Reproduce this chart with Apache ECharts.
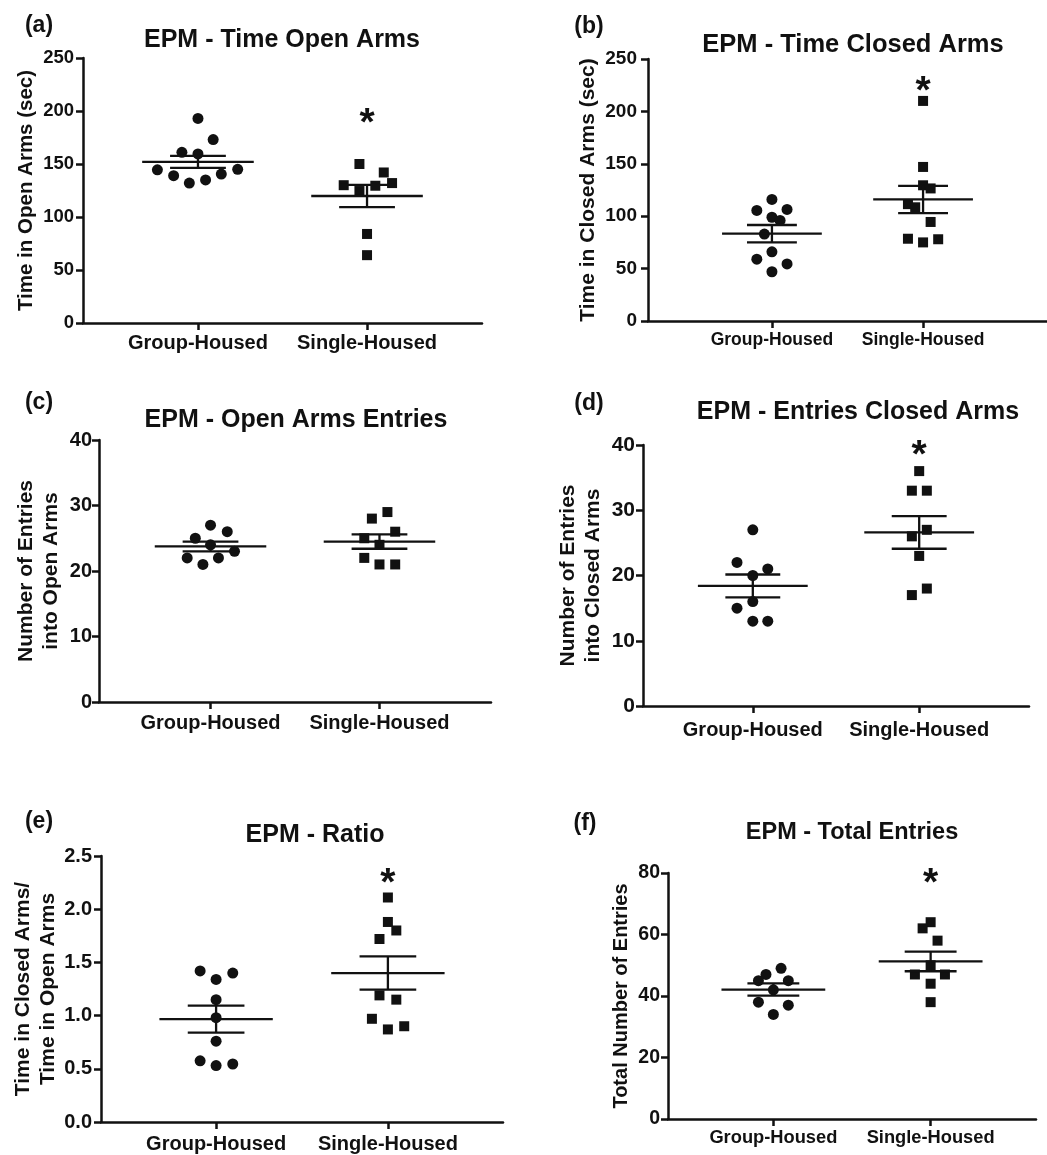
<!DOCTYPE html>
<html>
<head>
<meta charset="utf-8">
<script src="https://cdn.jsdelivr.net/npm/echarts@6/dist/echarts.min.js"></script>
<style>
html,body{margin:0;padding:0;background:#fff;}
#chart{width:1047px;height:1155px;}
</style>
</head>
<body>
<div id="chart"></div>
<script>
// ---------------- DATA ----------------
const categories = ['Group-Housed', 'Single-Housed'];
const panelLetters = ['(a)', '(b)', '(c)', '(d)', '(e)', '(f)'];
const panelTitles = ['EPM - Time Open Arms', 'EPM - Time Closed Arms', 'EPM - Open Arms Entries',
  'EPM - Entries Closed Arms', 'EPM - Ratio', 'EPM - Total Entries'];
const yAxisNames = ['Time in Open Arms (sec)', 'Time in Closed Arms (sec)', 'Number of Entries\ninto Open Arms',
  'Number of Entries\ninto Closed Arms', 'Time in Closed Arms/\nTime in Open Arms', 'Total Number of Entries'];

const yTicksA = [0, 50, 100, 150, 200, 250];
const yTicksB = [0, 50, 100, 150, 200, 250];
const yTicksC = [0, 10, 20, 30, 40];
const yTicksD = [0, 10, 20, 30, 40];
const yTicksE = [0, 0.5, 1.0, 1.5, 2.0, 2.5];
const yTicksF = [0, 20, 40, 60, 80];

// (a) Time in open arms
const aGroup = [193, 173, 161, 159.5, 144.5, 145, 139, 140.5, 132, 135];
const aGroupJitter = [0, 0.09, -0.095, 0, -0.24, 0.235, -0.144, 0.138, -0.051, 0.045];
const aSingle = [150, 142, 130, 129.5, 132, 124.5, 84, 64];
const aSingleJitter = [-0.045, 0.099, -0.138, 0.049, 0.148, -0.045, 0, 0];
const aMean = [152.0, 119.8];
const aSEM = [5.7, 10.5];

// (b) Time in closed arms
const bGroup = [116, 105.5, 106.5, 99, 96, 83, 66, 59, 54.5, 47];
const bGroupJitter = [0, -0.10, 0.10, 0, 0.054, -0.05, 0, -0.10, 0.10, 0];
const bSingle = [210, 147, 129.5, 126.5, 111.5, 108.5, 94.5, 78.5, 75, 78];
const bSingleJitter = [0, 0, 0, 0.05, -0.10, -0.052, 0.05, -0.10, 0, 0.10];
const bMean = [83.3, 116];
const bSEM = [8.3, 13];

// (c) Open arms entries
const cGroup = [27, 26, 25, 24, 23, 22, 22, 21];
const cGroupJitter = [0, 0.099, -0.09, 0, 0.142, -0.138, 0.047, -0.045];
const cSingle = [29, 28, 26, 25, 24, 22, 21, 21];
const cSingleJitter = [0.047, -0.045, 0.093, -0.09, 0, -0.09, 0, 0.093];
const cMean = [23.75, 24.5];
const cSEM = [0.75, 1.1];

// (d) Entries closed arms
const dGroup = [27, 22, 21, 20, 16, 15, 13, 13];
const dGroupJitter = [0, -0.095, 0.09, 0, 0, -0.095, 0, 0.09];
const dSingle = [36, 33, 33, 27, 26, 23, 18, 17];
const dSingleJitter = [0, -0.044, 0.046, 0.046, -0.044, 0, 0.046, -0.044];
const dMean = [18.4, 26.6];
const dSEM = [1.75, 2.5];

// (e) Ratio
const eGroup = [1.42, 1.40, 1.34, 1.15, 0.98, 0.76, 0.575, 0.53, 0.545];
const eGroupJitter = [-0.093, 0.097, 0, 0, 0, 0, -0.093, 0, 0.097];
const eSingle = [2.11, 1.88, 1.80, 1.72, 1.19, 1.15, 0.97, 0.87, 0.90];
const eSingleJitter = [0, 0, 0.049, -0.049, -0.049, 0.049, -0.093, 0, 0.095];
const eMean = [0.967, 1.40];
const eSEM = [0.127, 0.156];

// (f) Total entries
const fGroup = [49, 47, 45, 45, 42, 38, 37, 34];
const fGroupJitter = [0.049, -0.047, -0.095, 0.095, 0, -0.095, 0.095, 0];
const fSingle = [64, 62, 58, 50, 47, 47, 44, 38];
const fSingleJitter = [0, -0.051, 0.044, 0, -0.1, 0.091, 0, 0];
const fMean = [42.1, 51.25];
const fSEM = [2.0, 3.2];

// significance star (value where the * sits over Single-Housed; null = none)
const starValues = [196, 227, null, 39.6, 2.32, 79.3];

// ---------------- ASSEMBLY ----------------
const panels = [
  {ticks: yTicksA, g: aGroup, gj: aGroupJitter, s: aSingle, sj: aSingleJitter, mean: aMean, sem: aSEM},
  {ticks: yTicksB, g: bGroup, gj: bGroupJitter, s: bSingle, sj: bSingleJitter, mean: bMean, sem: bSEM},
  {ticks: yTicksC, g: cGroup, gj: cGroupJitter, s: cSingle, sj: cSingleJitter, mean: cMean, sem: cSEM},
  {ticks: yTicksD, g: dGroup, gj: dGroupJitter, s: dSingle, sj: dSingleJitter, mean: dMean, sem: dSEM},
  {ticks: yTicksE, g: eGroup, gj: eGroupJitter, s: eSingle, sj: eSingleJitter, mean: eMean, sem: eSEM, dec: 1},
  {ticks: yTicksF, g: fGroup, gj: fGroupJitter, s: fSingle, sj: fSingleJitter, mean: fMean, sem: fSEM}
];

// layout (positions, sizes, styles)
const layout = [
  {left: 83, top: 58, width: 399, height: 265, ext: 0.68, title: [282, 40], tSize: 25, letter: [39, 26],
   tick: 18.5, lMargin: 9, xl: 20, xMargin: 10, yn: 20.5, nameGap: 44},
  {left: 648, top: 59, width: 405, height: 262, ext: 0.82, title: [853, 45], tSize: 25.5, letter: [589, 27],
   tick: 19, lMargin: 11, xl: 17.5, xMargin: 10, yn: 21, nameGap: 47},
  {left: 99, top: 440, width: 392, height: 262, ext: 0.66, title: [296, 420], tSize: 25, letter: [39, 403],
   tick: 20, lMargin: 7, xl: 20, xMargin: 11, yn: 21, nameGap: 35},
  {left: 643, top: 445, width: 386, height: 261, ext: 0.66, title: [858, 412], tSize: 25, letter: [589, 404],
   tick: 21, lMargin: 8, xl: 20, xMargin: 14, yn: 21, nameGap: 37},
  {left: 101, top: 856, width: 402, height: 266, ext: 0.67, title: [315, 835], tSize: 25, letter: [39, 822],
   tick: 20, lMargin: 9, xl: 20, xMargin: 12, yn: 21, nameGap: 39},
  {left: 668, top: 873, width: 368, height: 246, ext: 0.67, title: [852, 833], tSize: 23.5, letter: [585, 824],
   tick: 19.5, lMargin: 8, xl: 18.3, xMargin: 10, yn: 20, nameGap: 32}
];

const INK = '#111111';
const FONT = '"Liberation Sans", Arial, sans-serif';
const MEAN_HALF = 0.33, SEM_HALF = 0.165;

const grid = [], xAxis = [], yAxis = [], series = [], graphic = [];

panels.forEach((p, i) => {
  const L = layout[i];
  grid.push({left: L.left, top: L.top, width: L.width, height: L.height, containLabel: false});
  xAxis.push({
    type: 'value', gridIndex: i, min: 1 - L.ext, max: 2 + L.ext,
    splitLine: {show: false},
    axisLine: {show: true, onZero: false, lineStyle: {color: INK, width: 2.5}},
    axisTick: {show: true, customValues: [1, 2], length: 7, lineStyle: {color: INK, width: 2.5}},
    axisLabel: {show: true, customValues: [1, 2], margin: L.xMargin,
      formatter: v => categories[Math.round(v) - 1] || '',
      color: INK, fontFamily: FONT, fontWeight: 'bold', fontSize: L.xl}
  });
  const t = p.ticks;
  yAxis.push({
    type: 'value', gridIndex: i, min: t[0], max: t[t.length - 1], interval: t[1] - t[0],
    splitLine: {show: false},
    axisLine: {show: true, onZero: false, lineStyle: {color: INK, width: 2.5}},
    axisTick: {show: true, length: 7, lineStyle: {color: INK, width: 2.5}},
    axisLabel: {margin: L.lMargin, color: INK, fontFamily: FONT, fontWeight: 'bold', fontSize: L.tick,
      formatter: v => p.dec ? v.toFixed(p.dec) : String(v)},
    name: yAxisNames[i], nameLocation: 'middle', nameRotate: 90, nameGap: L.nameGap,
    nameTextStyle: {color: INK, fontFamily: FONT, fontWeight: 'bold', fontSize: L.yn, lineHeight: 25, align: 'center'}
  });
  series.push({
    type: 'scatter', xAxisIndex: i, yAxisIndex: i, symbol: 'circle', symbolSize: 11,
    itemStyle: {color: INK, opacity: 1}, silent: true, z: 3,
    data: p.g.map((v, k) => [1 + p.gj[k], v])
  });
  series.push({
    type: 'scatter', xAxisIndex: i, yAxisIndex: i, symbol: 'rect', symbolSize: 10,
    itemStyle: {color: INK, opacity: 1}, silent: true, z: 3,
    data: p.s.map((v, k) => [2 + p.sj[k], v])
  });
  series.push({
    type: 'custom', xAxisIndex: i, yAxisIndex: i, silent: true, z: 4,
    data: [[1, p.mean[0], p.sem[0]], [2, p.mean[1], p.sem[1]]],
    renderItem: (params, api) => {
      const x = api.value(0), m = api.value(1), s = api.value(2);
      const c = (xx, yy) => api.coord([xx, yy]);
      const seg = (a, b) => ({type: 'line', shape: {x1: a[0], y1: a[1], x2: b[0], y2: b[1]},
        style: {stroke: INK, lineWidth: 2.3}});
      return {type: 'group', children: [
        seg(c(x - MEAN_HALF, m), c(x + MEAN_HALF, m)),
        seg(c(x - SEM_HALF, m + s), c(x + SEM_HALF, m + s)),
        seg(c(x - SEM_HALF, m - s), c(x + SEM_HALF, m - s)),
        seg(c(x, m - s), c(x, m + s))
      ]};
    }
  });
  if (starValues[i] !== null) {
    series.push({
      type: 'custom', xAxisIndex: i, yAxisIndex: i, silent: true, z: 5,
      data: [[2, starValues[i]]],
      renderItem: (params, api) => {
        const pt = api.coord([api.value(0), api.value(1)]);
        return {type: 'text', x: pt[0], y: pt[1] + 9,
          style: {text: '*', fill: INK, font: 'bold 39px ' + FONT, align: 'center', verticalAlign: 'middle'}};
      }
    });
  }
  graphic.push({type: 'text', x: L.title[0], y: L.title[1], silent: true,
    style: {text: panelTitles[i], fill: INK, font: 'bold ' + L.tSize + 'px ' + FONT,
      align: 'center', verticalAlign: 'middle', textAlign: 'center', textVerticalAlign: 'middle'}});
  graphic.push({type: 'text', x: L.letter[0], y: L.letter[1], silent: true,
    style: {text: panelLetters[i], fill: INK, font: 'bold 23px ' + FONT,
      align: 'center', verticalAlign: 'middle', textAlign: 'center', textVerticalAlign: 'middle'}});
});

const chart = echarts.init(document.getElementById('chart'), null, {renderer: 'canvas'});
chart.setOption({
  backgroundColor: '#ffffff',
  animation: false,
  grid, xAxis, yAxis, series, graphic
});
</script>
</body>
</html>
